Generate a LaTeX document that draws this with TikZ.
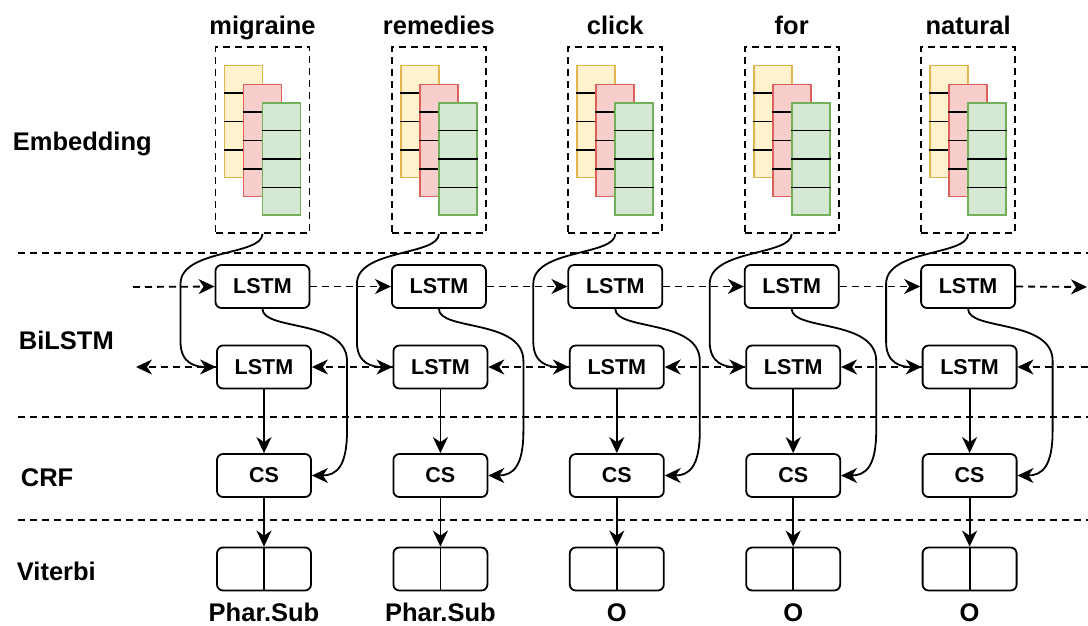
\documentclass[tikz,border=0pt]{standalone}
\usepackage{fontspec}
\setmainfont{Liberation Sans}
\usetikzlibrary{arrows.meta, calc}
\usetikzlibrary{positioning}

\definecolor{ylwfill}{HTML}{FFF2CC}
\definecolor{ylwline}{HTML}{E3B54F}
\definecolor{redfill}{HTML}{F8CECC}
\definecolor{redline}{HTML}{DC5F5A}
\definecolor{grnfill}{HTML}{D5E8D4}
\definecolor{grnline}{HTML}{72B05A}

\begin{document}
\begin{tikzpicture}[x=1pt,y=-1pt,line width=1.8pt,
    >={Stealth[length=16pt,width=15pt,inset=5pt]},
    dsh/.style={dash pattern=on 7pt off 5pt},
    blk/.style={draw,rounded corners=6pt,minimum width=94pt,minimum height=43pt,
        font=\fontsize{21.5}{22}\selectfont\bfseries},
    vec/.style={draw,minimum width=38pt,minimum height=112pt,inner sep=0pt},
    lbl/.style={anchor=base,font=\fontsize{25.5}{26}\selectfont\bfseries},
    rowlbl/.style={anchor=base west,inner sep=0pt,font=\fontsize{25.5}{26}\selectfont\bfseries}]
\useasboundingbox (0,0) rectangle (1088,625);

% row titles
\node[rowlbl] (rEmb) at (12,150) {Embedding};
\node[rowlbl] (rBi) at (18,349) {BiLSTM};
\node[rowlbl] (rCrf) at (20,486) {CRF};
\node[rowlbl] (rVit) at (16,580) {Viterbi};

% separators
\coordinate (s1a) at (18,253); \coordinate (s1b) at (1088,253);
\coordinate (s2a) at (18,417); \coordinate (s2b) at (1088,417);
\coordinate (s3a) at (18,520); \coordinate (s3b) at (1088,520);
\draw[dsh] (s1a) -- (s1b);
\draw[dsh] (s2a) -- (s2b);
\draw[dsh] (s3a) -- (s3b);

% one column per word
\foreach \w/\o [count=\i] in {migraine/Phar.Sub,remedies/Phar.Sub,click/O,for/O,natural/O}{
    \pgfmathsetmacro\cx{262.5+176.4*(\i-1)}
    \node[lbl] (t\i) at (\cx,34) {\w};
    \node[draw,dsh,minimum width=94pt,minimum height=186pt] (e\i) at (\cx,140) {};
    \node[vec,draw=ylwline,fill=ylwfill] (y\i) at (\cx-19,121.5) {};
    \foreach \f in {0.25,0.5,0.75}
        \draw ($(y\i.north west)!\f!(y\i.south west)$) -- ($(y\i.north east)!\f!(y\i.south east)$);
    \node[vec,draw=redline,fill=redfill] (r\i) at (\cx,140.5) {};
    \foreach \f in {0.25,0.5,0.75}
        \draw ($(r\i.north west)!\f!(r\i.south west)$) -- ($(r\i.north east)!\f!(r\i.south east)$);
    \node[vec,draw=grnline,fill=grnfill] (g\i) at (\cx+19,159) {};
    \foreach \f in {0.25,0.5,0.75}
        \draw ($(g\i.north west)!\f!(g\i.south west)$) -- ($(g\i.north east)!\f!(g\i.south east)$);
    \node[blk] (lt\i) at (\cx,286.5) {LSTM};
    \node[blk] (lb\i) at (\cx+1.5,367) {LSTM};
    \node[blk] (cs\i) at (\cx+1.5,475.5) {CS};
    \node[blk] (vt\i) at (\cx+1.5,569) {};
    \draw (vt\i.north) -- (vt\i.south);
    \node[lbl] (o\i) at (\cx+1.5,621) {\o};
    % connectors
    \draw[->] (e\i.south) .. controls +(0,22) and +(0,-35) .. ++(-82,50) -- ++(0,58)
        .. controls +(0,22) and +(-20,0) .. (lb\i.west);
    \draw[->] (lt\i.south) .. controls +(0,22) and +(0,-42) .. ++(84.5,52) -- ++(0,70)
        .. controls +(0,35) and +(25,0) .. (cs\i.east);
    \draw[->] (lb\i.south) -- (cs\i.north);
    \draw[->] (cs\i.south) -- (vt\i.north);
}

% recurrent links
\coordinate (fwdIn) at (133,287);
\coordinate (fwdOut) at (1087,287);
\coordinate (bwdIn) at (1088,367);
\coordinate (bwdOut) at (136,367);
\draw[dsh,->] (fwdIn) -- (lt1.west);
\draw[dsh,->] (lt5.east) -- (fwdOut);
\draw[dsh,->] (bwdIn) -- (lb5.east);
\draw[dsh,->] (lb1.west) -- (bwdOut);
\foreach \i in {1,...,4}{
    \pgfmathtruncatemacro\j{\i+1}
    \draw[dsh,->] (lt\i.east) -- (lt\j.west);
    \draw[dsh,->] (lb\j.west) -- (lb\i.east);
}
\end{tikzpicture}
\end{document}
